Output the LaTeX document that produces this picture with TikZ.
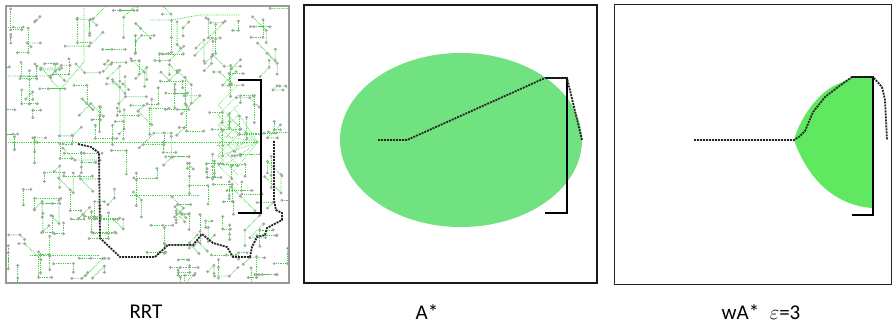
\documentclass[tikz,border=0pt]{standalone}
\usepackage{fontspec}
\setmainfont{Carlito}
\begin{document}
\begin{tikzpicture}[x=1pt,y=-1pt,
  treeline/.style={draw=treegreen, densely dotted, line width=0.8pt},
  nodedot/.style={fill=gray!70},
  pathline/.style={draw=black!85, line width=1.8pt, dash pattern=on 2pt off 1pt},
  obst/.style={draw=black, line width=2pt},
  lbl/.style={font=\fontsize{21}{25}\selectfont, inner sep=0pt}]
\definecolor{ellgreen}{RGB}{112,226,128}
\definecolor{wgreen}{RGB}{96,232,96}
\definecolor{treegreen}{RGB}{60,215,60}
\useasboundingbox (0,0) rectangle (892,326);
\fill[white] (0,0) rectangle (892,326);

% ---------- Panel 1: RRT ----------
\begin{scope}
\clip (7,7) rectangle (288,282);
\pgfmathsetseed{11}
\foreach \i in {1,...,230}{
  \pgfmathsetmacro\xa{8+rnd*276}
  \pgfmathsetmacro\ya{8+rnd*272}
  \pgfmathsetmacro\da{90*int(rnd*4)+45*int(rnd*1.35)}
  \pgfmathsetmacro\la{6+rnd*20}
  \pgfmathsetmacro\db{90*int(rnd*4)+45*int(rnd*1.35)}
  \pgfmathsetmacro\lb{5+rnd*16}
  \draw[treeline] (\xa,\ya) -- ++(\da:\la) coordinate (m) -- ++(\db:\lb) coordinate (e);
  \fill[nodedot] (\xa,\ya) circle (1.6pt) (m) circle (1.6pt) (e) circle (1.6pt);
}
\draw[treeline] (8,142) -- (258,142);
\draw[treeline] (84,8) -- (84,62) -- (60,90);
\draw[treeline] (8,76) -- (48,76) -- (60,90) -- (60,140);
\draw[treeline] (150,20) -- (172,20) -- (200,15) -- (240,15);
\draw[treeline] (30,255) -- (100,255);
\draw[treeline] (130,195) -- (200,195);
\foreach \a in {130,145,...,235}
  \draw[treeline, line width=0.6pt] (258,142) -- ++(\a:42);
\foreach \k in {0,10,...,60}{
  \draw[treeline, line width=0.6pt] (218,105+\k) -- ++(45:28);
  \draw[treeline, line width=0.6pt] (218,105+\k) -- ++(-45:28);
}
\end{scope}
\draw[gray!80, line width=1.5pt] (6,6) rectangle (289,283);
\draw[obst] (238,80) -- (261,80) -- (261,213) -- (238,213);
\draw[pathline] (274,141) -- (274,200) -- (276,210) -- (282,213) -- (282,220)
  -- (267,228) -- (265,235) -- (257,237) -- (252,247) -- (250,257) -- (233,257)
  -- (227,247) -- (213,243) -- (202,234) -- (193,245) -- (168,245) -- (155,257)
  -- (120,257) -- (100,238) -- (99,153) -- (91,147) -- (78,144);

% ---------- Panel 2: A* ----------
\fill[ellgreen] (461,140) ellipse [x radius=121, y radius=87];
\draw[black!90, line width=1.5pt] (304,5) rectangle (597,283);
\draw[obst, line width=1.6pt] (545,78) -- (567,78) -- (567,213) -- (545,213);
\draw[pathline] (378,140) -- (407,140) -- (545,78) -- (567,78) -- (582,140);

% ---------- Panel 3: wA* ----------
\fill[wgreen] (794,140) .. controls (800,118) and (818,92) .. (838,84)
  -- (852,77) -- (873,77) -- (873,208)
  .. controls (840,206) and (810,185) .. (794,140) -- cycle;
\draw[black!85, line width=1pt] (614,5) rectangle (891,284);
\draw[obst, line width=1.6pt] (852,77) -- (873,77) -- (873,215) -- (852,215);
\draw[pathline] (694,140) -- (794,140) -- (800,136) -- (805,131) -- (813,112)
  -- (825,97) -- (838,87) -- (852,77) -- (873,77) -- (882,87) -- (885,100) -- (887,140);

% ---------- Labels ----------
\node[lbl] (lrrt) at (146,312) {RRT};
\node[lbl] (lastar) at (427,312) {A*};
\node[lbl] (lwastar) at (761,312) {wA*\hspace{0.5em}$\varepsilon$=3};
\end{tikzpicture}
\end{document}
